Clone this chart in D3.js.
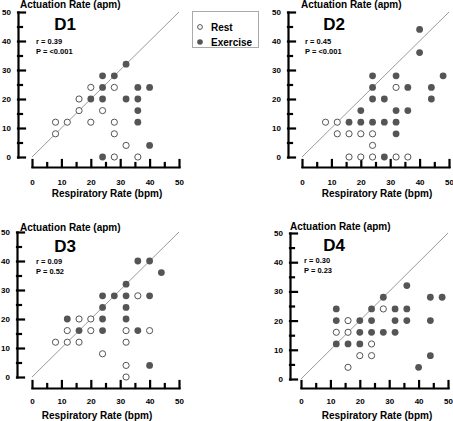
<!DOCTYPE html>
<html>
<head>
<meta charset="utf-8">
<script src="https://cdn.jsdelivr.net/npm/d3@7"></script>
<style>
  html, body { margin: 0; padding: 0; background: #fff; }
  svg { display: block; }
  text { font-family: "Liberation Sans", Arial, Helvetica, sans-serif; font-weight: bold; }
</style>
</head>
<body>
<svg id="chart" width="453" height="421"></svg>
<script>
// ---------------- DATA ----------------
const panelNames = ["D1", "D2", "D3", "D4"];
const rLabels = ["r = 0.39", "r = 0.45", "r = 0.09", "r = 0.30"];
const pLabels = ["P = <0.001", "P = <0.001", "P = 0.52", "P = 0.23"];
const xAxisTitle = "Respiratory Rate (bpm)";
const yAxisTitle = "Actuation Rate (apm)";
const seriesNames = ["Rest", "Exercise"];
const majorTicks = [0, 10, 20, 30, 40, 50];
const minorTicks = [5, 15, 25, 35, 45];
const axisDomain = [0, 50];

// [respiratory rate, actuation rate]
const d1Rest = [[8,8],[8,12],[12,12],[16,16],[16,20],[20,24],[20,12],[24,16],[28,24],[28,12],[28,8],[28,0],[32,4],[36,0]];
const d1Exercise = [[32,32],[28,28],[24,28],[24,24],[24,20],[20,20],[32,20],[36,24],[40,24],[36,20],[36,16],[36,12],[40,4],[24,0]];

const d2Rest = [[32,24],[8,12],[12,12],[12,8],[16,8],[20,8],[24,8],[24,4],[16,0],[20,0],[24,0],[32,0],[36,0]];
const d2Exercise = [[40,44],[40,36],[24,28],[32,28],[48,28],[24,24],[36,24],[44,24],[24,20],[28,20],[44,20],[20,16],[32,16],[36,16],[16,12],[20,12],[24,12],[28,12],[32,12],[32,8],[28,0]];

const d3Rest = [[36,28],[16,20],[20,20],[12,16],[20,16],[32,16],[40,16],[8,12],[12,12],[16,12],[32,12],[24,8],[32,4],[32,0]];
const d3Exercise = [[36,40],[40,40],[44,36],[32,32],[24,28],[28,28],[32,28],[40,28],[24,24],[32,24],[12,20],[24,20],[32,20],[16,16],[24,16],[36,16],[40,4]];

const d4Rest = [[28,24],[16,20],[12,16],[16,16],[24,12],[20,8],[24,8],[16,4]];
const d4Exercise = [[36,32],[28,28],[44,28],[48,28],[12,24],[24,24],[32,24],[36,24],[12,20],[20,20],[24,20],[32,20],[36,20],[44,20],[20,16],[24,16],[28,16],[32,16],[12,12],[16,12],[20,12],[44,8],[40,4]];

const restSets = [d1Rest, d2Rest, d3Rest, d4Rest];
const exerciseSets = [d1Exercise, d2Exercise, d3Exercise, d4Exercise];

// ---------------- LAYOUT ----------------
const layouts = [
  { ax: 18,  x0: 32,  x1: 179, y0: 157, y1: 12,  xAxisY: 167, xPad: 12, topX: 20,  topY: 8,   botX: 107, botY: 197, labX: 65,  labY: 30,  statX: 36,  statY: 44 },
  { ax: 288, x0: 302, x1: 449, y0: 157, y1: 12,  xAxisY: 167, xPad: 12, topX: 301, topY: 8,   botX: 377, botY: 197, labX: 334, labY: 30,  statX: 305, statY: 44 },
  { ax: 17,  x0: 32,  x1: 179, y0: 377, y1: 232, xAxisY: 388, xPad: 10, topX: 20,  topY: 231, botX: 97,  botY: 419, labX: 65,  labY: 252, statX: 36,  statY: 264 },
  { ax: 290, x0: 301, x1: 448, y0: 379, y1: 233, xAxisY: 388, xPad: 10, topX: 290, topY: 230, botX: 377, botY: 419, labX: 334, labY: 251, statX: 304, statY: 263 }
];

const markColor = "#555";
const axisColor = "#000";
const svg = d3.select("#chart");

layouts.forEach((L, i) => {
  const g = svg.append("g");
  const x = d3.scaleLinear().domain(axisDomain).range([L.x0, L.x1]);
  const y = d3.scaleLinear().domain(axisDomain).range([L.y0, L.y1]);

  // identity line
  g.append("line")
    .attr("x1", x(axisDomain[0])).attr("y1", y(axisDomain[0]))
    .attr("x2", x(axisDomain[1])).attr("y2", y(axisDomain[1]))
    .attr("stroke", "#808080").attr("stroke-width", 0.8);

  // Y axis: major ticks pointing inward, minor ticks
  g.append("g").attr("class", "axis").attr("transform", `translate(${L.ax},0)`)
    .call(d3.axisLeft(y).tickValues(majorTicks).tickSizeInner(-7).tickSizeOuter(0).tickPadding(7).tickFormat(d3.format("d")));
  g.append("g").attr("class", "axis minor").attr("transform", `translate(${L.ax},0)`)
    .call(d3.axisLeft(y).tickValues(minorTicks).tickSizeInner(-4).tickSizeOuter(0).tickFormat(() => ""));
  // X axis
  g.append("g").attr("class", "axis").attr("transform", `translate(0,${L.xAxisY})`)
    .call(d3.axisBottom(x).tickValues(majorTicks).tickSizeInner(-7).tickSizeOuter(0).tickPadding(L.xPad).tickFormat(d3.format("d")));
  g.append("g").attr("class", "axis minor").attr("transform", `translate(0,${L.xAxisY})`)
    .call(d3.axisBottom(x).tickValues(minorTicks).tickSizeInner(-4).tickSizeOuter(0).tickFormat(() => ""));
  g.selectAll(".minor .domain").remove();
  g.selectAll(".axis .domain, .axis .tick line")
    .attr("stroke", axisColor).attr("stroke-width", 2.2).attr("stroke-linecap", "square");
  g.selectAll(".axis .tick text").attr("font-size", 8)
    .attr("font-family", '"Liberation Sans", Arial, sans-serif').attr("font-weight", "bold").style("fill", "#000");

  // points
  g.selectAll("circle.ex").data(exerciseSets[i]).join("circle")
    .attr("class", "ex")
    .attr("cx", d => x(d[0])).attr("cy", d => y(d[1])).attr("r", 3.4)
    .attr("fill", markColor);
  g.selectAll("circle.rest").data(restSets[i]).join("circle")
    .attr("class", "rest")
    .attr("cx", d => x(d[0])).attr("cy", d => y(d[1])).attr("r", 3.1)
    .attr("fill", "#fff").attr("stroke", markColor).attr("stroke-width", 1);

  // texts
  const tx = (xx, yy, fs, s, anchor) => g.append("text").attr("x", xx).attr("y", yy).attr("font-size", fs)
    .attr("text-anchor", anchor || "start").style("fill", "#000").text(s);
  tx(L.topX, L.topY, 10, yAxisTitle);
  tx(L.botX, L.botY, 10, xAxisTitle, "middle");
  tx(L.labX, L.labY, 17, panelNames[i], "middle");
  tx(L.statX, L.statY, 7.5, rLabels[i]);
  tx(L.statX, L.statY + 10, 7.5, pLabels[i]);
});

// Legend
const leg = svg.append("g");
leg.append("rect").attr("x", 192.5).attr("y", 11.5).attr("width", 66).attr("height", 36)
  .attr("fill", "#fff").attr("stroke", "#aaa").attr("stroke-width", 1);
leg.append("circle").attr("cx", 200).attr("cy", 27).attr("r", 2.4).attr("fill", "#fff").attr("stroke", markColor).attr("stroke-width", 1);
leg.append("circle").attr("cx", 200).attr("cy", 42).attr("r", 2.8).attr("fill", markColor);
leg.append("text").attr("x", 211).attr("y", 30.5).attr("font-size", 10).style("fill", "#000").text(seriesNames[0]);
leg.append("text").attr("x", 211).attr("y", 45.5).attr("font-size", 10).style("fill", "#000").text(seriesNames[1]);
</script>
</body>
</html>
